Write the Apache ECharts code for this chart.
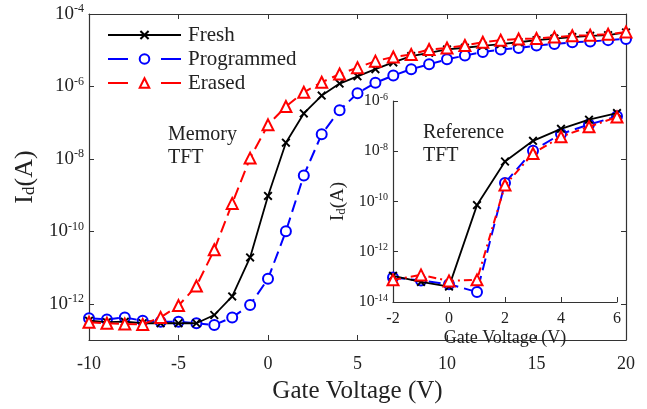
<!DOCTYPE html>
<html>
<head>
<meta charset="utf-8">
<script src="https://cdn.jsdelivr.net/npm/echarts@6/dist/echarts.min.js"></script>
<style>
  html, body { margin: 0; padding: 0; background: #fff; }
  #chart { width: 647px; height: 409px; }
</style>
</head>
<body>
<div id="chart"></div>
<script>
// Main memory TFT transfer curves (gate voltage in V, drain current in A)
const mainVg = [-10, -9, -8, -7, -6, -5, -4, -3, -2, -1, 0, 1, 2, 3, 4, 5, 6, 7, 8, 9, 10,
    11, 12, 13, 14, 15, 16, 17, 18, 19, 20];
const freshId = [3.4e-13, 3.1e-13, 3.2e-13, 2.9e-13, 2.9e-13, 2.9e-13, 2.9e-13, 4.9e-13, 1.6e-12, 1.9e-11,
    9.5e-10, 2.8e-8, 1.8e-7, 5.6e-7, 1.2e-6, 1.9e-6, 3.0e-6, 4.6e-6, 6.9e-6, 8.5e-6,
    1.05e-5, 1.17e-5, 1.32e-5, 1.48e-5, 1.66e-5, 1.9e-5, 2.1e-5, 2.3e-5, 2.5e-5, 2.6e-5, 3.1e-5];
const programmedId = [4.0e-13, 3.7e-13, 4.2e-13, 3.4e-13, 3.2e-13, 3.2e-13, 2.9e-13, 2.6e-13, 4.2e-13, 9.3e-13,
    4.9e-12, 1.0e-10, 3.5e-9, 4.8e-8, 2.2e-7, 6.5e-7, 1.26e-6, 2.0e-6, 3.0e-6, 4.1e-6,
    5.6e-6, 7.1e-6, 8.9e-6, 1.05e-5, 1.15e-5, 1.35e-5, 1.48e-5, 1.66e-5, 1.74e-5, 1.9e-5, 2.05e-5];
const erasedId = [3.1e-13, 2.9e-13, 2.75e-13, 2.7e-13, 4.2e-13, 8.9e-13, 3.1e-12, 3.1e-11, 5.9e-10, 1.05e-8,
    8.7e-8, 2.8e-7, 6.9e-7, 1.3e-6, 2.2e-6, 3.3e-6, 5.0e-6, 6.5e-6, 7.6e-6, 1.05e-5,
    1.15e-5, 1.35e-5, 1.66e-5, 1.9e-5, 2.05e-5, 2.1e-5, 2.3e-5, 2.5e-5, 2.6e-5, 2.75e-5, 3.2e-5];

// Inset: reference TFT
const insetVg = [-2, -1, 0, 1, 2, 3, 4, 5, 6];
const refFreshId = [1.1e-13, 6.3e-14, 4.1e-14, 7.2e-11, 3.9e-9, 2.6e-8, 7.8e-8, 1.8e-7, 3.3e-7];
const refProgrammedId = [9.5e-14, 7.1e-14, 5.1e-14, 2.5e-14, 5.5e-10, 1.05e-8, 4.9e-8, 1.15e-7, 2.45e-7];
const refErasedId = [7.6e-14, 1.2e-13, 6.9e-14, 7.6e-14, 4.5e-10, 8.1e-9, 3.8e-8, 9.5e-8, 2.3e-7];

// Tick values
const mainYTicks = [1e-12, 1e-10, 1e-8, 1e-6, 1e-4];
const insetYTicks = [1e-14, 1e-12, 1e-10, 1e-8, 1e-6];

const FONT = '"Liberation Serif", "DejaVu Serif", serif';
const TEXT = '#222';
const AXIS_COLOR = '#333';
const CROSS = 'path://M1.5,0 L5,3.5 L8.5,0 L10,1.5 L6.5,5 L10,8.5 L8.5,10 L5,6.5 L1.5,10 L0,8.5 L3.5,5 L0,1.5 Z';

const zip = (xs, ys) => xs.map((x, i) => [x, ys[i]]);

// "10^n" tick labels with a raised exponent
function powLabel(size, supSize) {
    return {
        formatter: (v) => '{b|10}{e|' + Math.round(Math.log10(v)) + '}',
        rich: {
            b: { fontFamily: FONT, fontSize: size, color: TEXT },
            e: { fontFamily: FONT, fontSize: supSize, color: TEXT, verticalAlign: 'top', padding: [0, 0, size * 0.5, 0] }
        }
    };
}

const frameLine = { show: true, onZero: false, lineStyle: { color: AXIS_COLOR, width: 1.2 } };
const innerTick = { show: true, inside: true, length: 5, lineStyle: { color: AXIS_COLOR } };

const chart = echarts.init(document.getElementById('chart'), null, { renderer: 'canvas' });

const option = {
    backgroundColor: '#fff',
    animation: false,
    textStyle: { fontFamily: FONT },
    legend: {
        left: 102,
        top: 19,
        orient: 'vertical',
        itemWidth: 73,
        itemHeight: 12,
        itemGap: 2,
        textStyle: { fontFamily: FONT, fontSize: 21, lineHeight: 22, color: TEXT, padding: [0, 0, 0, 2] },
        data: [
            { name: 'Fresh' },
            { name: 'Programmed', lineStyle: { type: [20, 33] } },
            { name: 'Erased', lineStyle: { type: [20, 33] } }
        ]
    },
    grid: [
        { left: 89, top: 14, width: 537, height: 335 },
        { left: 393, top: 101, width: 224, height: 201 }
    ],
    xAxis: [
        {
            gridIndex: 0, type: 'value', min: -10, max: 20, interval: 5,
            name: 'Gate Voltage (V)', nameLocation: 'middle', nameGap: 39,
            nameTextStyle: { fontFamily: FONT, fontSize: 25, color: TEXT },
            axisLine: frameLine, axisTick: innerTick, splitLine: { show: false },
            axisLabel: { fontFamily: FONT, fontSize: 18, color: TEXT, margin: 15 }
        },
        {
            gridIndex: 0, type: 'value', position: 'top', min: -10, max: 20, interval: 5,
            axisLine: frameLine, axisTick: innerTick, splitLine: { show: false },
            axisLabel: { show: false }
        },
        {
            gridIndex: 1, type: 'value', min: -2, max: 6, interval: 2,
            name: 'Gate Voltage (V)', nameLocation: 'middle', nameGap: 27,
            nameTextStyle: { fontFamily: FONT, fontSize: 18, color: TEXT },
            axisLine: frameLine, axisTick: innerTick, splitLine: { show: false },
            axisLabel: { fontFamily: FONT, fontSize: 16, color: TEXT, margin: 9 }
        }
    ],
    yAxis: [
        {
            gridIndex: 0, type: 'log', min: 1e-13, max: 1e-4,
            name: '{a|I}{s|d}{a|(A)}', nameLocation: 'middle', nameGap: 48, nameRotate: 90,
            nameTextStyle: {
                rich: {
                    a: { fontFamily: FONT, fontSize: 26, color: TEXT },
                    s: { fontFamily: FONT, fontSize: 17, color: TEXT, verticalAlign: 'bottom', padding: [8, 0, 0, 0] }
                }
            },
            axisLine: frameLine,
            axisTick: Object.assign({ customValues: mainYTicks }, innerTick),
            splitLine: { show: false },
            axisLabel: Object.assign({ customValues: mainYTicks, margin: 5 }, powLabel(19, 12))
        },
        {
            gridIndex: 0, type: 'log', position: 'right', min: 1e-13, max: 1e-4,
            axisLine: frameLine,
            axisTick: Object.assign({ customValues: mainYTicks }, innerTick),
            splitLine: { show: false },
            axisLabel: { show: false }
        },
        {
            gridIndex: 1, type: 'log', min: 1e-14, max: 1e-6,
            name: '{a|I}{s|d}{a|(A)}', nameLocation: 'middle', nameGap: 45, nameRotate: 90,
            nameTextStyle: {
                rich: {
                    a: { fontFamily: FONT, fontSize: 19, color: TEXT },
                    s: { fontFamily: FONT, fontSize: 13, color: TEXT, verticalAlign: 'bottom', padding: [6, 0, 0, 0] }
                }
            },
            axisLine: frameLine,
            axisTick: Object.assign({ customValues: insetYTicks }, innerTick),
            splitLine: { show: false },
            axisLabel: Object.assign({ customValues: insetYTicks, margin: 5 }, powLabel(16, 10))
        }
    ],
    graphic: [
        {
            type: 'text', left: 168, top: 123,
            style: { text: 'Memory\nTFT', fontFamily: FONT, fontSize: 20, lineHeight: 23, fill: TEXT }
        },
        {
            type: 'text', left: 423, top: 121,
            style: { text: 'Reference\nTFT', fontFamily: FONT, fontSize: 20, lineHeight: 23, fill: TEXT }
        }
    ],
    series: [
        {
            name: 'Fresh', type: 'line', xAxisIndex: 0, yAxisIndex: 0,
            data: zip(mainVg, freshId),
            symbol: CROSS, symbolSize: 9,
            lineStyle: { color: '#000', width: 1.8 },
            itemStyle: { color: '#000' }, z: 4
        },
        {
            name: 'Programmed', type: 'line', xAxisIndex: 0, yAxisIndex: 0,
            data: zip(mainVg, programmedId),
            symbol: 'emptyCircle', symbolSize: 10,
            lineStyle: { color: '#0000ff', width: 2, type: [12, 6] },
            itemStyle: { color: '#0000ff', borderWidth: 2 }, z: 3
        },
        {
            name: 'Erased', type: 'line', xAxisIndex: 0, yAxisIndex: 0,
            data: zip(mainVg, erasedId),
            symbol: 'emptyTriangle', symbolSize: 11,
            lineStyle: { color: '#ff0000', width: 2, type: [12, 6] },
            itemStyle: { color: '#ff0000', borderWidth: 2 }, z: 5
        },
        {
            name: 'Fresh', type: 'line', xAxisIndex: 2, yAxisIndex: 2,
            data: zip(insetVg, refFreshId),
            symbol: CROSS, symbolSize: 9,
            lineStyle: { color: '#000', width: 1.8 },
            itemStyle: { color: '#000' }, z: 4
        },
        {
            name: 'Programmed', type: 'line', xAxisIndex: 2, yAxisIndex: 2,
            data: zip(insetVg, refProgrammedId),
            symbol: 'emptyCircle', symbolSize: 10,
            lineStyle: { color: '#0000ff', width: 2, type: [12, 6] },
            itemStyle: { color: '#0000ff', borderWidth: 2 }, z: 3
        },
        {
            name: 'Erased', type: 'line', xAxisIndex: 2, yAxisIndex: 2,
            data: zip(insetVg, refErasedId),
            symbol: 'emptyTriangle', symbolSize: 11,
            lineStyle: { color: '#ff0000', width: 2, type: [8, 4, 2, 4] },
            itemStyle: { color: '#ff0000', borderWidth: 2 }, z: 5
        }
    ]
};

chart.setOption(option);
window.addEventListener('resize', () => chart?.resize());
</script>
</body>
</html>
